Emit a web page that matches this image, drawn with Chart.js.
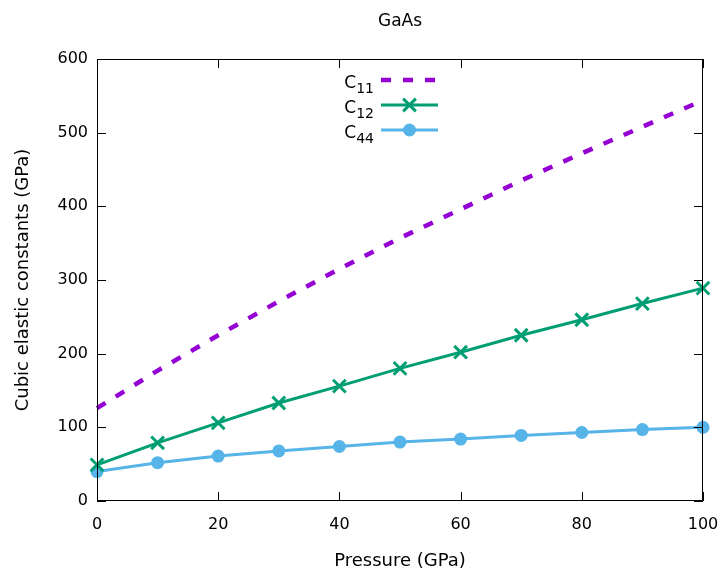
<!DOCTYPE html>
<html>
<head>
<meta charset="utf-8">
<script src="https://cdn.jsdelivr.net/npm/chart.js@4.4.0/dist/chart.umd.min.js"></script>
<style>
    html, body { margin: 0; padding: 0; background: #fff; }
    #wrap { width: 721px; height: 572px; }
</style>
</head>
<body>
<div id="wrap"><canvas id="chart"></canvas></div>
<script>
// Data (GPa)
const pressure = [0, 10, 20, 30, 40, 50, 60, 70, 80, 90, 100];
const c11 = [126, 177, 225, 271, 315, 357, 396, 435, 472, 508, 544];
const c12 = [49, 79, 106, 133, 156, 180, 202, 225, 246, 268, 289];
const c44 = [40, 52, 61, 68, 74, 80, 84, 89, 93, 97, 100];
const xTicks = [0, 20, 40, 60, 80, 100];
const yTicks = [0, 100, 200, 300, 400, 500, 600];
const seriesSubs = ['11', '12', '44'];

const FONT = '"DejaVu Sans", Verdana, sans-serif';
const colors = {
    c11: '#9400d3',
    c12: '#009e73',
    c44: '#56b4e9'
};

const toPoints = (ys) => pressure.map((x, i) => ({ x: x, y: ys[i] }));

// Border box, inward ticks on all four sides, title, axis titles, legend
const gnuFrame = {
    id: 'gnuFrame',
    afterDatasetsDraw(chart) {
        const { ctx, chartArea: a, scales } = chart;
        const tl = 9;
        ctx.save();
        ctx.strokeStyle = '#000';
        ctx.lineWidth = 1;
        ctx.beginPath();
        ctx.rect(a.left + 0.5, a.top + 0.5, a.right - a.left - 1, a.bottom - a.top - 1);
        ctx.stroke();
        ctx.beginPath();
        xTicks.forEach(v => {
            const px = Math.round(scales.x.getPixelForValue(v)) + 0.5;
            ctx.moveTo(px, a.bottom); ctx.lineTo(px, a.bottom - tl);
            ctx.moveTo(px, a.top); ctx.lineTo(px, a.top + tl);
        });
        yTicks.forEach(v => {
            const py = Math.round(scales.y.getPixelForValue(v)) + 0.5;
            ctx.moveTo(a.left, py); ctx.lineTo(a.left + tl, py);
            ctx.moveTo(a.right, py); ctx.lineTo(a.right - tl, py);
        });
        ctx.stroke();
        ctx.restore();
    },
    afterDraw(chart) {
        const { ctx, chartArea: a } = chart;
        const cx = (a.left + a.right) / 2;
        ctx.save();
        ctx.fillStyle = '#000';
        ctx.textAlign = 'center';
        ctx.textBaseline = 'middle';
        ctx.font = '17px ' + FONT;
        ctx.fillText('GaAs', cx, 22);
        ctx.font = '18px ' + FONT;
        ctx.fillText('Pressure (GPa)', cx, 561);
        ctx.translate(23, (a.top + a.bottom) / 2);
        ctx.rotate(-Math.PI / 2);
        ctx.fillText('Cubic elastic constants (GPa)', 0, 0);
        ctx.restore();

        // legend: C with subscript, then line sample
        const rows = [80, 105, 130];
        const x0 = 381, x1 = 438;
        chart.data.datasets.forEach((ds, i) => {
            const y = rows[i];
            const mx = (x0 + x1) / 2;
            ctx.save();
            ctx.fillStyle = '#000';
            ctx.textBaseline = 'alphabetic';
            ctx.textAlign = 'right';
            ctx.font = '14px ' + FONT;
            ctx.fillText(seriesSubs[i], 374, y + 13);
            const subW = ctx.measureText(seriesSubs[i]).width;
            ctx.font = '17px ' + FONT;
            ctx.fillText('C', 374 - subW, y + 8);
            ctx.strokeStyle = ds.borderColor;
            ctx.lineWidth = ds.borderWidth;
            ctx.setLineDash(ds.borderDash || []);
            ctx.beginPath();
            ctx.moveTo(x0, y); ctx.lineTo(x1, y);
            ctx.stroke();
            ctx.setLineDash([]);
            if (ds.pointRadius > 0) {
                ctx.fillStyle = ds.pointBackgroundColor;
                ctx.strokeStyle = ds.pointBorderColor;
                ctx.lineWidth = ds.pointBorderWidth;
                ctx.beginPath();
                if (ds.pointStyle === 'circle') {
                    ctx.arc(mx, y, ds.pointRadius, 0, Math.PI * 2);
                    ctx.fill();
                } else {
                    const r = ds.pointRadius * Math.SQRT1_2;
                    ctx.moveTo(mx - r, y - r); ctx.lineTo(mx + r, y + r);
                    ctx.moveTo(mx - r, y + r); ctx.lineTo(mx + r, y - r);
                    ctx.stroke();
                }
            }
            ctx.restore();
        });
    }
};

new Chart(document.getElementById('chart'), {
    type: 'line',
    data: {
        datasets: [{
            label: 'C11',
            data: toPoints(c11),
            borderColor: colors.c11,
            borderWidth: 4.5,
            borderDash: [10, 12],
            borderCapStyle: 'butt',
            pointRadius: 0,
            tension: 0,
            clip: false
        }, {
            label: 'C12',
            data: toPoints(c12),
            borderColor: colors.c12,
            borderWidth: 3,
            pointStyle: 'crossRot',
            pointRadius: 9,
            pointBorderWidth: 3,
            pointBorderColor: colors.c12,
            pointBackgroundColor: colors.c12,
            tension: 0,
            clip: false
        }, {
            label: 'C44',
            data: toPoints(c44),
            borderColor: colors.c44,
            borderWidth: 3,
            pointStyle: 'circle',
            pointRadius: 6.5,
            pointBorderWidth: 0,
            pointBorderColor: colors.c44,
            pointBackgroundColor: colors.c44,
            tension: 0,
            clip: false
        }]
    },
    options: {
        responsive: true,
        maintainAspectRatio: false,
        animation: false,
        layout: {
            padding: { top: 59, right: 18, left: 0, bottom: 0 }
        },
        plugins: {
            legend: { display: false },
            tooltip: { enabled: false }
        },
        scales: {
            x: {
                type: 'linear',
                min: 0,
                max: 100,
                afterFit: s => { s.height = 71; s.paddingLeft = 0; s.paddingRight = 0; },
                afterBuildTicks: s => { s.ticks = xTicks.map(v => ({ value: v })); },
                grid: { display: false, drawTicks: false },
                border: { display: false },
                ticks: {
                    color: '#000',
                    padding: 14,
                    maxRotation: 0,
                    font: { family: FONT, size: 16 }
                }
            },
            y: {
                min: 0,
                max: 600,
                afterFit: s => { s.width = 97; s.paddingTop = 0; s.paddingBottom = 0; },
                afterBuildTicks: s => { s.ticks = yTicks.map(v => ({ value: v })); },
                grid: { display: false, drawTicks: false },
                border: { display: false },
                ticks: {
                    color: '#000',
                    padding: 9,
                    font: { family: FONT, size: 16 }
                }
            }
        }
    },
    plugins: [gnuFrame]
});
</script>
</body>
</html>
